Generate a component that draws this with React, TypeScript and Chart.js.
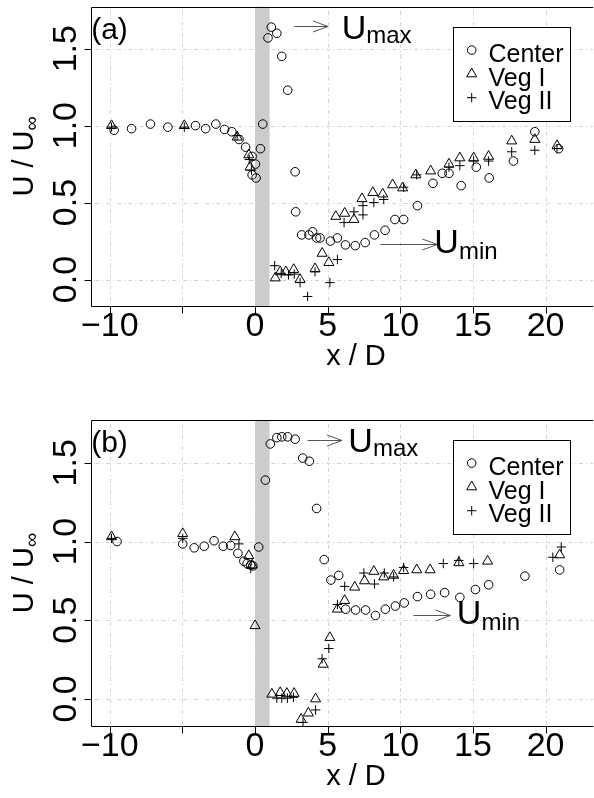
import React, { useEffect, useRef } from 'react';
import { Chart, registerables } from 'chart.js';

Chart.register(...registerables);

type Pt = [number, number];

const FONT = '"Liberation Sans", Arial, Helvetica, sans-serif';

const xTickValues = [-10, -5, 0, 5, 10, 15, 20];
const xTickLabels = ['\u221210', '', '0', '5', '10', '15', '20'];
const yTickValues = [0, 0.5, 1, 1.5];
const yTickLabels = ['0.0', '0.5', '1.0', '1.5'];
const seriesNames = ['Center', 'Veg I', 'Veg II'];
const xRange: Pt = [-11.28, 23.28];
const yRange: Pt = [-0.172, 1.772];
const bandRange: Pt = [0, 1];

// ---------- Panel (a) ----------
const aCenter: Pt[] = [
  [-9.7, 0.97], [-8.5, 0.98], [-7.2, 1.01], [-6.0, 0.99], [-4.1, 1.0], [-3.4, 0.98], [-2.7, 1.01],
  [-2.1, 0.975], [-1.6, 0.96], [-1.1, 0.91], [-0.65, 0.86], [-0.2, 0.8], [-0.2, 0.68], [0.07, 0.66],
  [0.03, 0.75], [0.37, 0.85], [0.53, 1.01], [0.89, 1.57], [1.12, 1.64], [1.5, 1.6], [1.84, 1.45],
  [2.25, 1.23], [2.76, 0.7], [2.8, 0.44], [3.21, 0.29], [3.71, 0.29], [3.96, 0.31], [4.24, 0.27],
  [4.47, 0.27], [5.19, 0.25], [5.67, 0.27], [6.22, 0.225], [6.9, 0.22], [7.58, 0.24], [8.22, 0.29],
  [8.95, 0.32], [9.63, 0.39], [10.23, 0.39], [11.18, 0.48], [12.25, 0.625], [12.89, 0.69],
  [13.35, 0.69], [14.19, 0.61], [15.23, 0.73], [16.12, 0.66], [17.79, 0.77], [19.26, 0.96], [20.9, 0.85],
];
const aVeg1: Pt[] = [
  [-9.88, 1.0], [-4.87, 1.0], [-1.23, 0.925], [-0.43, 0.81], [-0.35, 0.73], [1.39, 0.01], [1.73, 0.05],
  [2.12, 0.05], [2.66, 0.065], [3.1, 0.0], [4.13, 0.07], [4.62, 0.17], [5.08, 0.11], [5.56, 0.41],
  [6.17, 0.43], [6.81, 0.39], [7.36, 0.525], [8.11, 0.565], [8.79, 0.555], [9.47, 0.615], [10.16, 0.595],
  [11.07, 0.68], [12.09, 0.705], [13.35, 0.75], [14.1, 0.79], [15.05, 0.79], [16.08, 0.8], [17.67, 0.9],
  [19.26, 0.91], [20.79, 0.87],
];
const aVeg2: Pt[] = [
  [-9.88, 0.99], [-4.87, 0.99], [-1.23, 0.935], [-0.4, 0.78], [-0.25, 0.71], [1.35, 0.09], [1.8, 0.04],
  [2.3, 0.03], [2.7, 0.035], [3.1, -0.02], [3.62, -0.11], [4.13, 0.05], [5.15, -0.02], [5.67, 0.13],
  [6.13, 0.37], [6.81, 0.44], [7.43, 0.42], [7.43, 0.48], [8.18, 0.5], [8.86, 0.52], [10.23, 0.6],
  [11.13, 0.68], [13.35, 0.73], [14.1, 0.74], [15.05, 0.77], [16.08, 0.77], [17.67, 0.83], [19.26, 0.84],
  [20.79, 0.85],
];

// ---------- Panel (b) ----------
const bCenter: Pt[] = [
  [-9.5, 1.0], [-4.98, 0.985], [-4.19, 0.96], [-3.5, 0.97], [-2.82, 1.005], [-2.19, 0.97], [-1.68, 0.975],
  [-1.18, 0.925], [-0.77, 0.875], [-0.55, 0.86], [-0.3, 0.85], [-0.15, 0.845], [0.25, 0.965], [0.71, 1.39],
  [1.05, 1.62], [1.5, 1.66], [1.84, 1.665], [2.25, 1.665], [2.76, 1.65], [3.28, 1.53], [3.74, 1.51],
  [4.24, 1.21], [4.76, 0.885], [5.22, 0.755], [5.76, 0.785], [6.24, 0.57], [6.92, 0.565], [7.61, 0.565],
  [8.29, 0.53], [8.97, 0.57], [9.66, 0.59], [10.27, 0.61], [11.18, 0.65], [12.09, 0.665], [13.05, 0.675],
  [14.1, 0.645], [15.17, 0.695], [16.08, 0.725], [18.58, 0.78], [20.97, 0.82],
];
const bVeg1: Pt[] = [
  [-9.88, 1.03], [-4.98, 1.05], [-1.39, 1.03], [-0.43, 0.91], [-0.2, 0.85], [0.0, 0.465], [1.16, 0.03],
  [1.73, 0.04], [2.19, 0.035], [2.69, 0.035], [3.17, -0.13], [3.67, -0.09], [4.17, 0.0], [4.69, 0.22],
  [5.15, 0.39], [5.67, 0.57], [6.17, 0.625], [6.86, 0.71], [7.54, 0.75], [8.18, 0.81], [8.86, 0.775],
  [9.54, 0.785], [10.23, 0.815], [11.13, 0.82], [12.05, 0.82], [14.03, 0.865], [16.01, 0.875], [20.97, 0.915],
];
const bVeg2: Pt[] = [
  [-9.88, 1.02], [-4.98, 1.02], [-1.11, 0.985], [-0.3, 0.83], [1.5, 0.005], [1.84, 0.005], [2.23, 0.005],
  [2.64, 0.01], [3.3, -0.15], [4.17, -0.07], [4.62, 0.255], [5.08, 0.32], [5.67, 0.6], [6.17, 0.715],
  [7.49, 0.8], [8.22, 0.73], [8.9, 0.8], [9.54, 0.775], [10.23, 0.835], [12.96, 0.86], [14.03, 0.88],
  [15.05, 0.86], [20.5, 0.9], [21.08, 0.965],
];

// annotation anchors in data units: arrow [x0, x1, y], label [x, baseline y]
type Ann = { maxArrow: number[]; maxText: number[]; minArrow: number[]; minText: number[] };
const annA: Ann = { maxArrow: [2.71, 5.03, 1.646], maxText: [6.17, 1.566], minArrow: [8.63, 12.55, 0.228], minText: [12.55, 0.174] };
const annB: Ann = { maxArrow: [3.62, 5.99, 1.647], maxText: [6.63, 1.568], minArrow: [10.9, 13.45, 0.53], minText: [14.1, 0.477] };

function drawSymbol(ctx: CanvasRenderingContext2D, style: string, x: number, y: number) {
  ctx.beginPath();
  if (style === 'circle') {
    ctx.arc(x, y, 4.3, 0, Math.PI * 2);
  } else if (style === 'triangle') {
    const r = 5.8;
    for (let i = 0; i < 3; i++) {
      const a = (i * 2 * Math.PI) / 3;
      const px = x + Math.sin(a) * r, py = y - Math.cos(a) * r;
      if (i === 0) ctx.moveTo(px, py); else ctx.lineTo(px, py);
    }
    ctx.closePath();
  } else {
    const r = 4.7;
    ctx.moveTo(x - r, y); ctx.lineTo(x + r, y);
    ctx.moveTo(x, y - r); ctx.lineTo(x, y + r);
  }
  ctx.stroke();
}

function drawArrow(ctx: CanvasRenderingContext2D, x0: number, x1: number, y: number) {
  const len = 16, ang = (20 * Math.PI) / 180;
  ctx.beginPath();
  ctx.moveTo(x0, y); ctx.lineTo(x1, y);
  ctx.moveTo(x1 - len * Math.cos(ang), y - len * Math.sin(ang)); ctx.lineTo(x1, y);
  ctx.lineTo(x1 - len * Math.cos(ang), y + len * Math.sin(ang));
  ctx.stroke();
}

function drawSub(ctx: CanvasRenderingContext2D, x: number, y: number, main: string, sub: string, s1: number, s2: number, drop: number) {
  ctx.font = `${s1}px ${FONT}`;
  ctx.fillText(main, x, y);
  const w = ctx.measureText(main).width;
  ctx.font = `${s2}px ${FONT}`;
  ctx.fillText(sub, x + w, y + drop);
}

function makePlugin(label: string, ann: Ann) {
  return {
    id: 'rpanel',
    beforeDatasetsDraw(chart: any) {
      const { ctx, chartArea: a, scales } = chart;
      const xs = scales.x, ys = scales.y;
      ctx.save();
      ctx.strokeStyle = '#d3d3d3';
      ctx.lineWidth = 1;
      ctx.setLineDash([1, 3, 4, 3]);
      for (const v of xTickValues) {
        const p = Math.round(xs.getPixelForValue(v)) + 0.5;
        ctx.beginPath(); ctx.moveTo(p, a.top); ctx.lineTo(p, a.bottom); ctx.stroke();
      }
      for (const v of yTickValues) {
        const p = Math.round(ys.getPixelForValue(v)) + 0.5;
        ctx.beginPath(); ctx.moveTo(a.left, p); ctx.lineTo(a.right, p); ctx.stroke();
      }
      ctx.setLineDash([]);
      const b0 = xs.getPixelForValue(bandRange[0]), b1 = xs.getPixelForValue(bandRange[1]);
      ctx.fillStyle = '#cccccc';
      ctx.fillRect(b0, a.top, b1 - b0, a.bottom - a.top);
      ctx.restore();
    },
    afterDatasetsDraw(chart: any) {
      const { ctx, chartArea: a, scales } = chart;
      const xs = scales.x, ys = scales.y;
      ctx.save();
      ctx.strokeStyle = '#000';
      ctx.fillStyle = '#000';
      ctx.lineWidth = 1;
      // box (left, top, bottom; right lies outside view)
      const L = Math.round(a.left) + 0.5, T = Math.round(a.top) + 0.5, B = Math.round(a.bottom) + 0.5, R = a.right;
      ctx.beginPath();
      ctx.moveTo(R, T); ctx.lineTo(L, T); ctx.lineTo(L, B); ctx.lineTo(R, B);
      ctx.stroke();
      // ticks
      ctx.beginPath();
      for (const v of xTickValues) {
        const p = Math.round(xs.getPixelForValue(v)) + 0.5;
        ctx.moveTo(p, B); ctx.lineTo(p, B + 7);
      }
      for (const v of yTickValues) {
        const p = Math.round(ys.getPixelForValue(v)) + 0.5;
        ctx.moveTo(L - 7, p); ctx.lineTo(L, p);
      }
      ctx.stroke();
      // x tick labels
      ctx.font = `34px ${FONT}`;
      ctx.textAlign = 'center';
      ctx.textBaseline = 'alphabetic';
      xTickValues.forEach((v, i) => {
        if (xTickLabels[i]) ctx.fillText(xTickLabels[i], xs.getPixelForValue(v), a.bottom + 30);
      });
      // y tick labels (rotated)
      yTickValues.forEach((v, i) => {
        ctx.save();
        ctx.translate(a.left - 15, ys.getPixelForValue(v));
        ctx.rotate(-Math.PI / 2);
        ctx.fillText(yTickLabels[i], 0, 0);
        ctx.restore();
      });
      // x title
      ctx.font = `29px ${FONT}`;
      ctx.fillText('x / D', 356, a.bottom + 59);
      // y title
      ctx.save();
      ctx.translate(33, (a.top + a.bottom) / 2);
      ctx.rotate(-Math.PI / 2);
      ctx.textAlign = 'left';
      ctx.font = `29px ${FONT}`;
      const w1 = ctx.measureText('U / U').width;
      ctx.font = `20px ${FONT}`;
      const w2 = ctx.measureText('\u221E').width;
      const st = -(w1 + w2) / 2;
      ctx.font = `29px ${FONT}`;
      ctx.fillText('U / U', st, 0);
      ctx.font = `20px ${FONT}`;
      ctx.fillText('\u221E', st + w1, 5);
      ctx.restore();
      // panel label
      ctx.textAlign = 'left';
      ctx.font = `30px ${FONT}`;
      ctx.fillText(label, a.left, a.top + 32);
      // arrows
      ctx.strokeStyle = '#555555';
      drawArrow(ctx, xs.getPixelForValue(ann.maxArrow[0]), xs.getPixelForValue(ann.maxArrow[1]), Math.round(ys.getPixelForValue(ann.maxArrow[2])) + 0.5);
      drawArrow(ctx, xs.getPixelForValue(ann.minArrow[0]), xs.getPixelForValue(ann.minArrow[1]), Math.round(ys.getPixelForValue(ann.minArrow[2])) + 0.5);
      ctx.fillStyle = '#000';
      drawSub(ctx, xs.getPixelForValue(ann.maxText[0]) - 3, ys.getPixelForValue(ann.maxText[1]), 'U', 'max', 34, 24, 4);
      drawSub(ctx, xs.getPixelForValue(ann.minText[0]) - 3, ys.getPixelForValue(ann.minText[1]), 'U', 'min', 34, 24, 6);
      // legend
      const lx = 453.5, ly = Math.round(a.top + 19.7) + 0.5, lw = 117, lh = 94;
      ctx.fillStyle = '#fff';
      ctx.fillRect(lx, ly, lw, lh);
      ctx.strokeStyle = '#000';
      ctx.strokeRect(lx, ly, lw, lh);
      const styles = ['circle', 'triangle', 'cross'];
      ctx.fillStyle = '#000';
      ctx.font = `25px ${FONT}`;
      seriesNames.forEach((name, i) => {
        const sy = ly + 22.6 + i * 23.8;
        drawSymbol(ctx, styles[i], 471.7, sy);
        ctx.fillText(name, 488.5, sy + 11.7);
      });
      ctx.restore();
    },
  };
}

function ds(pts: Pt[], style: string, r: number) {
  return {
    data: pts.map(([x, y]) => ({ x, y })),
    pointStyle: style,
    pointRadius: r,
    pointBorderColor: '#000',
    pointBackgroundColor: 'rgba(0,0,0,0)',
    pointBorderWidth: 1,
    showLine: false,
  };
}

type PanelProps = { top: number; height: number; padTop: number; padBottom: number; center: Pt[]; veg1: Pt[]; veg2: Pt[]; label: string; ann: Ann };

function Panel({ top, height, padTop, padBottom, center, veg1, veg2, label, ann }: PanelProps) {
  const ref = useRef<HTMLCanvasElement>(null);
  useEffect(() => {
    const chart = new Chart(ref.current as HTMLCanvasElement, {
      type: 'scatter',
      data: { datasets: [ds(center, 'circle', 4.3), ds(veg1, 'triangle', 5.8), ds(veg2, 'cross', 4.7)] as any },
      options: {
        animation: false,
        responsive: false,
        devicePixelRatio: 1,
        events: [],
        layout: { padding: { left: 91.2, right: 2.9, top: padTop, bottom: padBottom } },
        scales: {
          x: { type: 'linear', min: xRange[0], max: xRange[1], display: false },
          y: { type: 'linear', min: yRange[0], max: yRange[1], display: false },
        },
        plugins: { legend: { display: false }, tooltip: { enabled: false } },
      } as any,
      plugins: [makePlugin(label, ann) as any],
    });
    return () => chart.destroy();
  }, []);
  return (
    <canvas
      ref={ref}
      width={600}
      height={height}
      style={{ position: 'absolute', left: 0, top, display: 'block', width: 600, height }}
    />
  );
}

export default function App() {
  return (
    <div style={{ position: 'fixed', left: 0, top: 0, width: 594, height: 798, overflow: 'hidden', background: '#fff' }}>
      <Panel top={0} height={399} padTop={1} padBottom={93} center={aCenter} veg1={aVeg1} veg2={aVeg2} label="(a)" ann={annA} />
      <Panel top={399} height={399} padTop={21} padBottom={72} center={bCenter} veg1={bVeg1} veg2={bVeg2} label="(b)" ann={annB} />
    </div>
  );
}
